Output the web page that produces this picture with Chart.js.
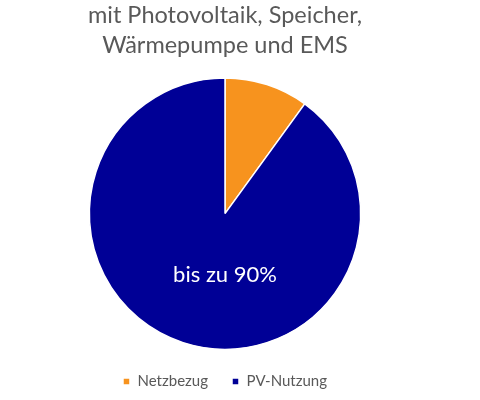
<!DOCTYPE html>
<html>
<head>
<meta charset="utf-8">
<script src="https://cdn.jsdelivr.net/npm/chart.js@4"></script>
<style>
  html, body { margin: 0; padding: 0; background: #fff; }
  #wrap { width: 480px; height: 400px; }
</style>
</head>
<body>
<div id="wrap"><canvas id="pieChart"></canvas></div>
<script>
const categories = ['Netzbezug', 'PV-Nutzung'];
const shares = [10, 90];
const sliceColors = ['#F7931E', '#000096'];
const titleLines = ['mit Photovoltaik, Speicher,', 'Wärmepumpe und EMS'];
const centerLabel = 'bis zu ' + shares[1] + '%';

// writes the share label into the big slice
const sliceLabel = {
    id: 'sliceLabel',
    afterDatasetsDraw(chart) {
        const arc = chart.getDatasetMeta(0).data[1];
        if (!arc) return;
        const ctx = chart.ctx;
        ctx.save();
        ctx.fillStyle = '#ffffff';
        ctx.font = '22px Lato, "Open Sans", sans-serif';
        ctx.textAlign = 'center';
        ctx.textBaseline = 'middle';
        ctx.fillText(centerLabel, arc.x, arc.y + arc.outerRadius * 0.45);
        ctx.restore();
    }
};

new Chart(document.getElementById('pieChart'), {
    type: 'pie',
    data: {
        labels: categories,
        datasets: [{
            data: shares,
            backgroundColor: sliceColors,
            borderColor: '#ffffff',
            borderWidth: 1.5
        }]
    },
    options: {
        responsive: true,
        maintainAspectRatio: false,
        animation: false,
        layout: { padding: { left: 0, right: 30, top: 0, bottom: 1 } },
        plugins: {
            title: {
                display: true,
                text: titleLines,
                color: '#595959',
                font: { family: 'Lato, "Open Sans", sans-serif', size: 23.5, weight: 'normal', lineHeight: 1.28 },
                padding: { top: 0, bottom: 17 }
            },
            legend: {
                position: 'bottom',
                labels: {
                    color: '#595959',
                    font: { family: 'Lato, "Open Sans", sans-serif', size: 15 },
                    boxWidth: 7,
                    boxHeight: 7,
                    padding: 24
                }
            },
            tooltip: { enabled: false }
        }
    },
    plugins: [sliceLabel]
});
</script>
</body>
</html>
